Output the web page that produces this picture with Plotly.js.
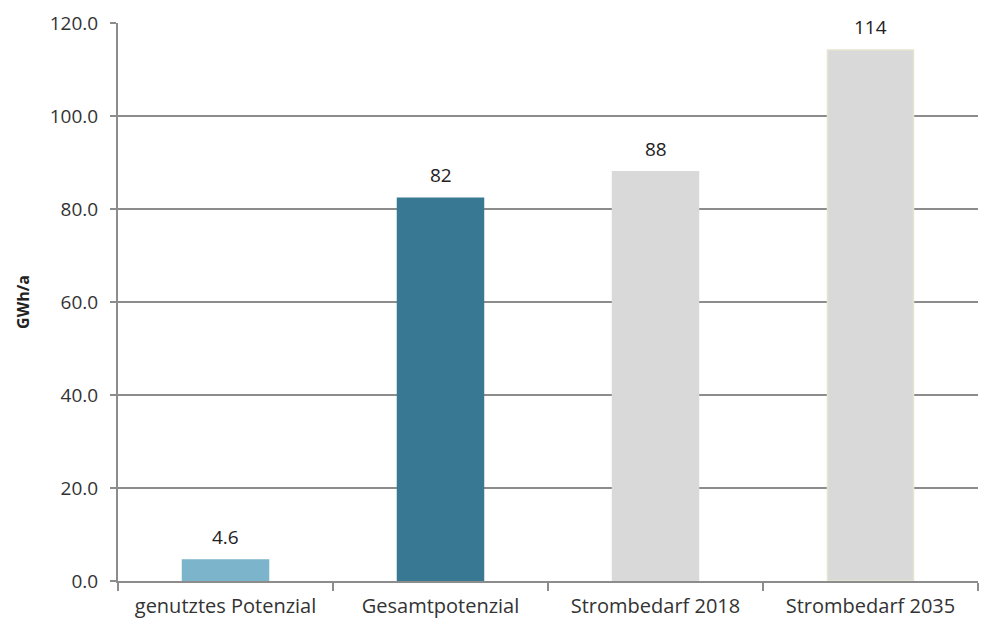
<!DOCTYPE html>
<html><head><meta charset="utf-8">
<script src="https://cdn.plot.ly/plotly-3.0.1.min.js"></script>
<style>body{margin:0;background:#fff}#c{width:984px;height:626px}</style>
</head><body><div id="c"></div>
<script>
const categories = ["genutztes Potenzial", "Gesamtpotenzial", "Strombedarf 2018", "Strombedarf 2035"];
const values = [4.5, 82.3, 88.0, 114.2];
const labels = ["4.6", "82", "88", "114"];
const barColors = ["#7BB4CB", "#387892", "#D9D9D9", "#D9D9D9"];
const lineColors = ["#7BB4CB", "#387892", "#D9D9D9", "#E6E3CF"];

const trace = {
  type: "bar",
  x: categories,
  y: values,
  marker: {color: barColors, line: {color: lineColors, width: 1.5}},
  width: 0.4,
  hoverinfo: "skip"
};

const annotations = categories.map((c, i) => ({
  x: c, y: values[i], text: labels[i],
  xref: "x", yref: "y", yanchor: "bottom", showarrow: false, yshift: 8,
  font: {family: "Open Sans, sans-serif", size: 19, color: "#222"}
}));

const layout = {
  width: 984, height: 626,
  margin: {l: 118, r: 6, t: 23, b: 45},
  paper_bgcolor: "#fff", plot_bgcolor: "#fff",
  showlegend: false,
  font: {family: "Open Sans, sans-serif", size: 15, color: "#333"},
  annotations: annotations,
  xaxis: {
    type: "category",
    showline: true, linecolor: "#8c8c8c", linewidth: 2,
    ticks: "outside", tickson: "boundaries", ticklen: 8, tickcolor: "#8c8c8c", tickwidth: 1.5,
    tickfont: {size: 20, color: "#333"},
    ticklabelstandoff: 6,
    showgrid: false
  },
  yaxis: {
    range: [0, 120],
    dtick: 20,
    tickformat: ".1f",
    showline: true, linecolor: "#8c8c8c", linewidth: 2,
    ticks: "outside", ticklen: 6, tickcolor: "#8c8c8c", tickwidth: 1.5,
    gridcolor: "#8c8c8c", gridwidth: 1.5,
    zeroline: false,
    tickfont: {size: 19, color: "#333"},
    ticklabelstandoff: 8,
    title: {text: "<b>GWh/a</b>", font: {size: 16, color: "#222"}, standoff: 16}
  }
};

Plotly.newPlot("c", [trace], layout, {displayModeBar: false, staticPlot: true});
</script>
</body></html>
